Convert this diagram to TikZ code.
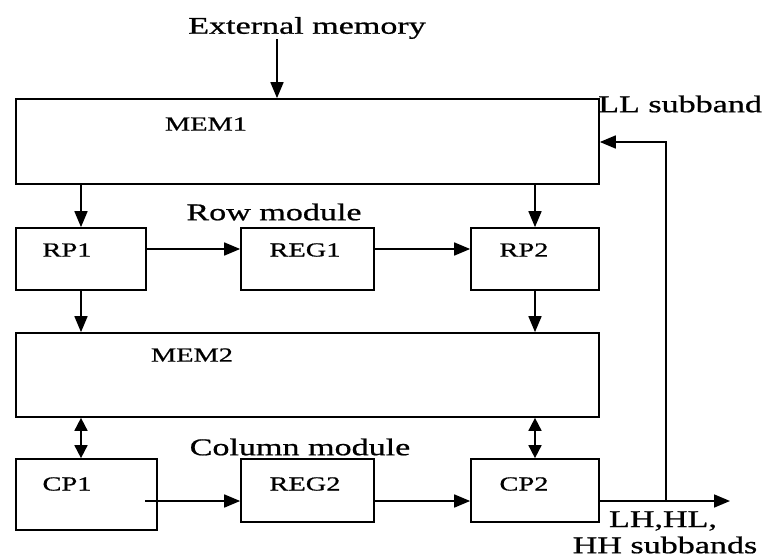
\documentclass[tikz,border=0pt]{standalone}
\usepackage{fontspec}
\setmainfont[FakeStretch=1.42,FakeBold=0.8]{Liberation Serif}
\usetikzlibrary{arrows.meta}
\begin{document}
\begin{tikzpicture}[x=1pt,y=-1pt,
  box/.style={draw,line width=1.7pt,inner sep=0pt},
  big/.style={inner sep=0pt,font=\fontsize{24}{26}\selectfont},
  lab/.style={inner sep=0pt,font=\fontsize{20}{22}\selectfont},
  arr/.style={line width=1.7pt,-{Triangle[length=16pt,width=13pt]}},
  darr/.style={line width=1.7pt,{Triangle[length=13pt,width=13pt]}-{Triangle[length=13pt,width=13pt]}},
  ln/.style={line width=1.7pt}]
\useasboundingbox (0,0) rectangle (768,557);
% boxes
\node[box,minimum width=583pt,minimum height=85pt] (mem1) at (307.5,141.5) {};
\node[box,minimum width=583pt,minimum height=84pt] (mem2) at (307.5,375) {};
\node[box,minimum width=130pt,minimum height=62pt] (rp1) at (81,259) {};
\node[box,minimum width=133pt,minimum height=62pt] (reg1) at (307.5,259) {};
\node[box,minimum width=128pt,minimum height=62pt] (rp2) at (535,259) {};
\node[box,minimum width=141pt,minimum height=71pt] (cp1) at (86.5,494.5) {};
\node[box,minimum width=133pt,minimum height=63pt] (reg2) at (307.5,490.5) {};
\node[box,minimum width=128pt,minimum height=63pt] (cp2) at (535,490.5) {};
% labels
\node[lab] (mem1t) at (206,124) {MEM1};
\node[lab] (mem2t) at (192,355) {MEM2};
\node[lab] (rp1t) at (67,250) {RP1};
\node[lab] (reg1t) at (305,250) {REG1};
\node[lab] (rp2t) at (524,250) {RP2};
\node[lab] (cp1t) at (67,484) {CP1};
\node[lab] (reg2t) at (305,484) {REG2};
\node[lab] (cp2t) at (524,484) {CP2};
\node[big] (ext) at (307,28) {External memory};
\node[big,anchor=west] (ll) at (598,104) {LL\ subband};
\node[big] (rowm) at (274,212) {Row module};
\node[big] (colm) at (300,447) {Column module};
\node[big] (lh) at (663,521) {LH,HL,};
\node[big] (hh) at (665,545) {HH subbands};
% coordinates
\coordinate (extx) at (277,0);
\coordinate (rowy) at (0,249);
\coordinate (coly) at (0,501);
\coordinate (cp1o) at (145,501);
\coordinate (out) at (730,501);
\coordinate (fb) at (666,501);
\coordinate (fbt) at (666,142);
% connectors
\draw[arr] (ext.south -| extx) -- (mem1.north -| extx);
\draw[arr] (mem1.south -| rp1.north) -- (rp1.north);
\draw[arr] (mem1.south -| rp2.north) -- (rp2.north);
\draw[arr] (rp1.east |- rowy) -- (reg1.west |- rowy);
\draw[arr] (reg1.east |- rowy) -- (rp2.west |- rowy);
\draw[arr] (rp1.south) -- (mem2.north -| rp1.south);
\draw[arr] (rp2.south) -- (mem2.north -| rp2.south);
\draw[darr] (mem2.south -| rp1.south) -- (cp1.north -| rp1.south);
\draw[darr] (mem2.south -| rp2.south) -- (cp2.north);
\draw[arr] (cp1o) -- (reg2.west |- coly);
\draw[arr] (reg2.east |- coly) -- (cp2.west |- coly);
\draw[arr] (cp2.east |- coly) -- (out);
\draw[arr] (fb) -- (fbt) -- (mem1.east |- fbt);
\end{tikzpicture}
\end{document}
